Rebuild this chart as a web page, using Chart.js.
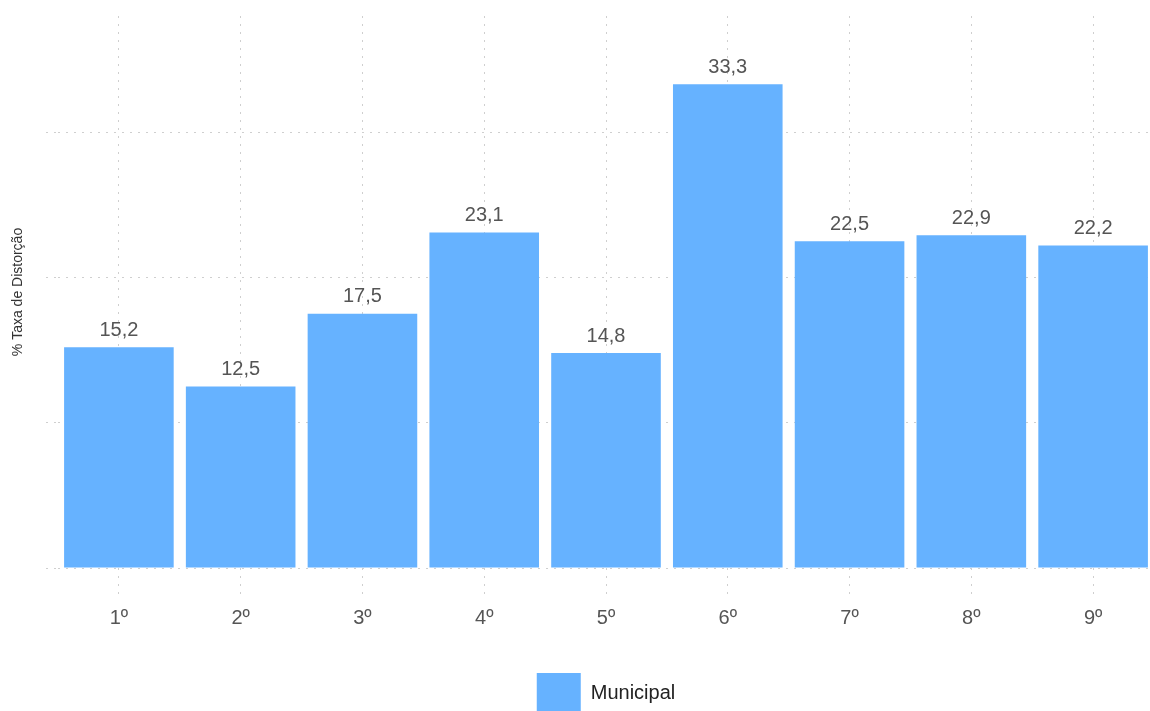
<!DOCTYPE html>
<html>
<head>
<meta charset="utf-8">
<script src="https://cdn.jsdelivr.net/npm/chart.js@4"></script>
<style>
  html, body { margin: 0; padding: 0; overflow: hidden; background: #fff; }
  #wrap { width: 1160px; height: 723px; }
</style>
</head>
<body>
<div id="wrap"><canvas id="barChart"></canvas></div>
<script>
const categories = ['1º', '2º', '3º', '4º', '5º', '6º', '7º', '8º', '9º'];
const municipal = [15.2, 12.5, 17.5, 23.1, 14.8, 33.3, 22.5, 22.9, 22.2];
const yTicks = [0, 10, 20, 30];

const font = '"Liberation Sans", Arial, sans-serif';
const gridColor = '#cfcfcf';

// draws the value above each bar, with a comma decimal
const valueLabels = {
  id: 'valueLabels',
  afterDatasetsDraw(chart) {
    const ctx = chart.ctx;
    ctx.save();
    ctx.font = '20px ' + font;
    ctx.fillStyle = '#555';
    ctx.textAlign = 'center';
    ctx.textBaseline = 'bottom';
    chart.getDatasetMeta(0).data.forEach((bar, i) => {
      const txt = municipal[i].toFixed(1).replace('.', ',');
      ctx.fillText(txt, bar.x, bar.y - 7);
    });
    ctx.restore();
  }
};

document.addEventListener('DOMContentLoaded', function() {
  const ctx = document.getElementById('barChart').getContext('2d');
  new Chart(ctx, {
    type: 'bar',
    data: {
      labels: categories,
      datasets: [{
        label: 'Municipal',
        data: municipal,
        backgroundColor: '#66b2ff',
        borderWidth: 0,
        barPercentage: 0.9,
        categoryPercentage: 1.0
      }]
    },
    options: {
      responsive: true,
      maintainAspectRatio: false,
      animation: false,
      layout: { padding: { top: 16, right: 6, left: 0, bottom: 0 } },
      plugins: {
        legend: {
          position: 'bottom',
          fullSize: false,
          labels: {
            boxWidth: 44,
            boxHeight: 40,
            padding: 31,
            color: '#222',
            font: { family: font, size: 20 }
          }
        },
        tooltip: { enabled: false }
      },
      scales: {
        x: {
          offset: true,
          grid: {
            offset: false,
            color: gridColor,
            lineWidth: 1,
            tickLength: 26,
            tickColor: gridColor,
            tickBorderDash: [2, 6]
          },
          border: { display: false, dash: [2, 6] },
          ticks: {
            color: '#555',
            padding: 12,
            font: { family: font, size: 20 }
          }
        },
        y: {
          min: 0,
          max: 38,
          afterBuildTicks: s => { s.ticks = yTicks.map(v => ({ value: v })); },
          afterFit: s => { s.width = 58; },
          grid: {
            color: gridColor,
            lineWidth: 1,
            tickLength: 12,
            tickColor: gridColor,
            tickBorderDash: [2, 6]
          },
          border: { display: false, dash: [2, 6] },
          ticks: { display: false },
          title: {
            display: true,
            text: '% Taxa de Distorção',
            color: '#333',
            padding: { top: 10, bottom: 4 },
            font: { family: font, size: 14 }
          }
        }
      }
    },
    plugins: [valueLabels]
  });
});
</script>
</body>
</html>
